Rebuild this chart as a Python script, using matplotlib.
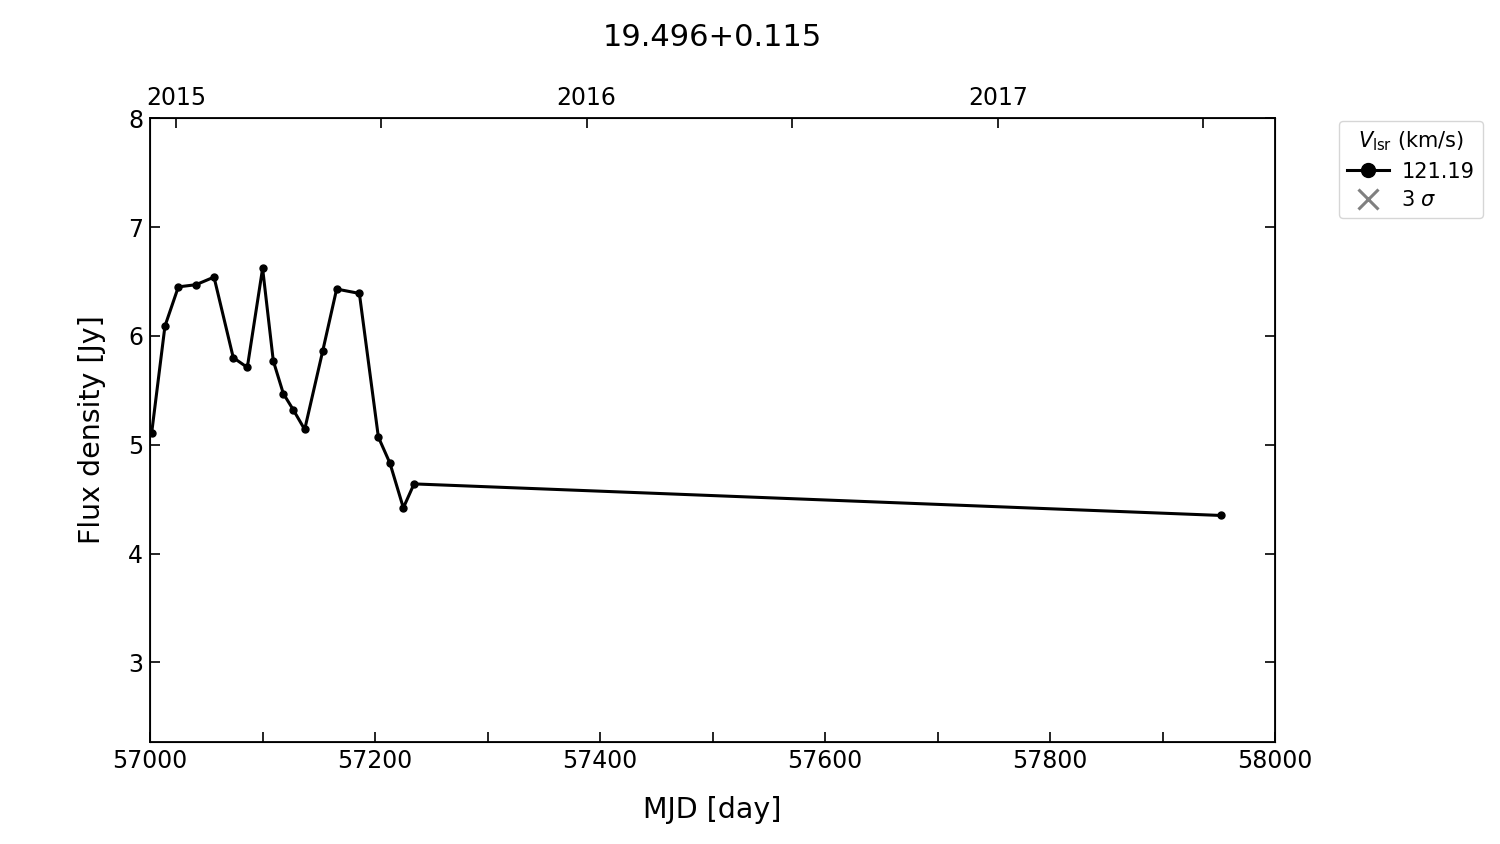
import datetime
import matplotlib
matplotlib.use("Agg")
import matplotlib.pyplot as plt
from matplotlib.lines import Line2D

source_name = "19.496+0.115"
vlsr_label = "121.19"

mjd = [57001.5, 57013.3, 57025.2, 57040.9, 57056.9, 57074.0, 57086.5, 57100.1,
       57109.6, 57118.5, 57127.4, 57137.5, 57153.5, 57165.9, 57186.1, 57203.0,
       57213.3, 57225.2, 57234.7, 57952.0]
flux = [5.11, 6.09, 6.45, 6.47, 6.54, 5.80, 5.71, 6.62,
        5.77, 5.47, 5.32, 5.14, 5.86, 6.43, 6.39, 5.07,
        4.83, 4.42, 4.64, 4.35]

years = [2015, 2016, 2017]


def date_to_mjd(d):
    return (d - datetime.date(1858, 11, 17)).days


def main():
    fig = plt.figure(figsize=(15, 8.44), dpi=100)
    ax = fig.add_axes([0.1, 0.121, 0.75, 0.739])

    ax.plot(mjd, flux, '-o', color='black', lw=2.2, ms=5)

    ax.set_xlim(57000, 58000)
    ax.set_ylim(2.27, 8)
    ax.set_xticks(range(57000, 58001, 200))
    ax.set_xticks(range(57100, 58000, 200), minor=True)
    ax.set_yticks([3, 4, 5, 6, 7, 8])
    ax.tick_params(which='both', direction='in', top=False, right=True,
                   labelsize=17, length=7, width=1.2, pad=5)
    for s in ax.spines.values():
        s.set_linewidth(1.3)

    ax.set_xlabel("MJD [day]", fontsize=20.5, labelpad=17)
    ax.set_ylabel("Flux density [Jy]", fontsize=20.5, labelpad=16)

    # calendar years on top
    ax2 = ax.twiny()
    ax2.set_xlim(ax.get_xlim())
    ax2.set_xticks([date_to_mjd(datetime.date(y, 1, 1)) for y in years])
    ax2.set_xticklabels([str(y) for y in years])
    ax2.set_xticks([date_to_mjd(datetime.date(y, 7, 2)) for y in years], minor=True)
    ax2.tick_params(which='both', direction='in', labelsize=17, length=7,
                    width=1.2, pad=6)

    ax.set_title(source_name, fontsize=22, pad=52)

    handles = [Line2D([], [], color='black', marker='o', lw=2.2, ms=10),
               Line2D([], [], color='gray', marker='x', ls='none', ms=14, mew=2.2)]
    ax.legend(handles, [vlsr_label, r"3 $\sigma$"], title=r"$V_\mathrm{lsr}$ (km/s)",
              loc='upper left', bbox_to_anchor=(1.054, 1.0), fontsize=15,
              title_fontsize=15, handlelength=2.0, handletextpad=0.6,
              labelspacing=0.4, borderaxespad=0.15)

    fig.savefig("out.png", dpi=100)


if __name__ == '__main__':
    main()
